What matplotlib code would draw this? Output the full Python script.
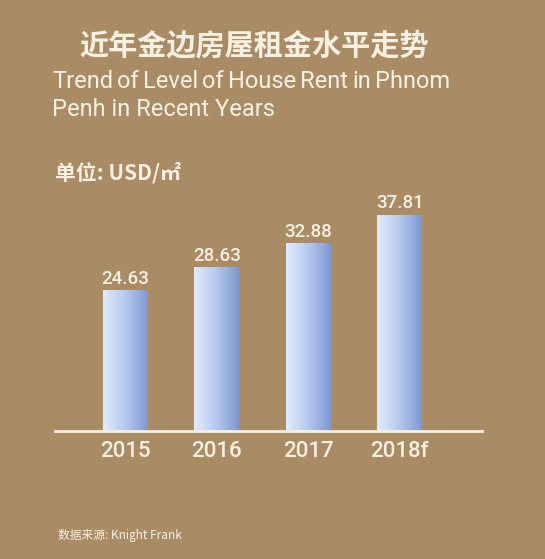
import matplotlib.pyplot as plt
import numpy as np
from matplotlib.colors import LinearSegmentedColormap

years = ['2015', '2016', '2017', '2018f']
rent = [24.63, 28.63, 32.88, 37.81]

title_cn = '近年金边房屋租金水平走势'
title_en1 = 'Trend of Level of House Rent in Phnom'
title_en2 = 'Penh in Recent Years'
unit_label = '单位: USD/㎡'
source = '数据来源: Knight Frank'

bg = '#a98b66'
cream = '#f8f1e2'
cjk = ['Noto Sans CJK SC', 'DejaVu Sans']
latin = ['Roboto', 'DejaVu Sans']

plt.rcParams['font.family'] = cjk

fig = plt.figure(figsize=(5.45, 5.59), dpi=100, facecolor=bg)
ax = fig.add_axes([55/545, 128/559, 427/545, 251/559])
ax.set_facecolor(bg)

x = np.arange(len(years))
bars = ax.bar(x, rent, width=0.49, color='none', edgecolor='none', zorder=2)

grad = LinearSegmentedColormap.from_list('g', ['#e2ecfb', '#b5c8ef', '#7f98d2'])
img = np.linspace(0, 1, 100).reshape(1, -1)
for b in bars:
    x0, w, h = b.get_x(), b.get_width(), b.get_height()
    ax.imshow(img, cmap=grad, aspect='auto', extent=(x0, x0 + w, 0, h), zorder=2)

for xi, v in zip(x, rent):
    ax.text(xi, v + 0.5, f'{v:.2f}', ha='center', va='bottom', fontsize=13.5,
            color=cream, family=latin, fontweight='medium')

ax.set_xlim(-0.77, 3.9)
ax.set_ylim(0, 44)
ax.set_xticks(x)
ax.set_xticklabels(years, fontsize=16, color=cream, family=latin, fontweight='medium')
ax.tick_params(axis='x', length=0, pad=7)
ax.set_yticks([])
for s in ['top', 'right', 'left']:
    ax.spines[s].set_visible(False)
ax.spines['bottom'].set_color(cream)
ax.spines['bottom'].set_linewidth(2)

fig.text(254/545, 1 - 45/559, title_cn, ha='center', va='center', fontsize=21,
         fontweight='bold', color=cream)

# first English line is justified between x=52 and x=448
words = title_en1.split()
renderer = fig.canvas.get_renderer()
objs = [fig.text(0, 1 - 82/559, wd, ha='left', va='center', fontsize=17,
                 color=cream, family=latin) for wd in words]
widths = [o.get_window_extent(renderer).width for o in objs]
gap = max((448 - 52 - sum(widths)) / (len(words) - 1), 4)
pos = 52
for o, wdt in zip(objs, widths):
    o.set_x(pos / 545)
    pos += wdt + gap
fig.text(52/545, 1 - 109/559, title_en2, ha='left', va='center', fontsize=17,
         color=cream, family=latin)

fig.text(55/545, 1 - 173/559, unit_label, ha='left', va='center', fontsize=15,
         fontweight='bold', color=cream)
fig.text(58/545, 1 - 536/559, source, ha='left', va='center', fontsize=8.5,
         color=cream)

fig.savefig('out.png', dpi=100, facecolor=bg)
